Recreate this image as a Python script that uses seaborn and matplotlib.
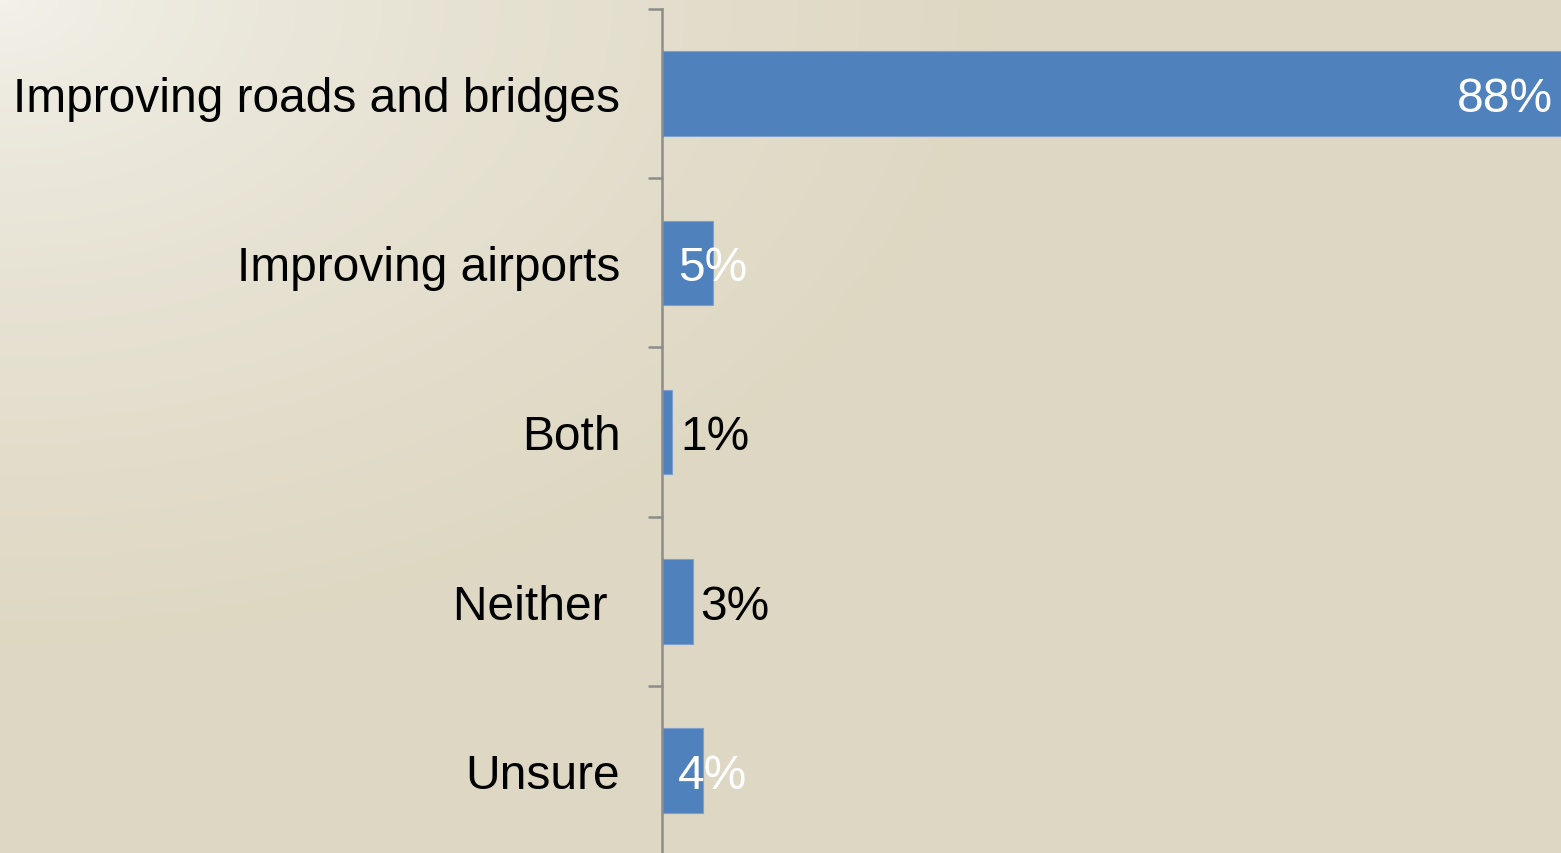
import matplotlib
matplotlib.use('Agg')
import matplotlib.pyplot as plt
import numpy as np
import pandas as pd
import seaborn as sns
from matplotlib.colors import LinearSegmentedColormap

categories = ['Improving roads and bridges', 'Improving airports', 'Both', 'Neither ', 'Unsure']
values = [88, 5, 1, 3, 4]
value_labels = ['88%', '5%', '1%', '3%', '4%']
# label placement as drawn in the original: inside end, inside base, or outside end
label_modes = ['inside_end', 'inside_base', 'outside', 'outside', 'inside_base']
label_colors = ['white', 'white', 'black', 'black', 'white']

BAR_COLOR = '#4F81BD'
BG_LIGHT = '#F4F2EC'
BG_DARK = '#DED8C3'
FS = 34.5

sns.set_theme(style='white')
plt.rcParams['font.family'] = ['Liberation Sans', 'DejaVu Sans']

df = pd.DataFrame({'category': categories, 'value': values})

fig = plt.figure(figsize=(15.61, 8.54), dpi=100)

# gradient background
bg = fig.add_axes([0, 0, 1, 1], zorder=0)
h, w = 854, 1561
yy, xx = np.mgrid[0:h, 0:w]
d = np.sqrt((xx / 1000.0) ** 2 + (yy / 650.0) ** 2)
t = np.clip(d, 0, 1) ** 0.65
cmap = LinearSegmentedColormap.from_list('bg', [BG_LIGHT, BG_DARK])
bg.imshow(t, cmap=cmap, vmin=0, vmax=1, aspect='auto', extent=[0, 1, 0, 1], origin='upper')
bg.axis('off')

ax = fig.add_axes([662 / 1561, -2 / 854, 1 - 662 / 1561, 846 / 854], zorder=1)
ax.patch.set_alpha(0)
sns.barplot(data=df, y='category', x='value', orient='h', color=BAR_COLOR,
            saturation=1, width=0.5, edgecolor='#7FA0CF', linewidth=0.8, ax=ax)

ax.set_xlim(0, 88)
ax.set_ylim(len(categories) - 0.5, -0.5)
ax.set_xlabel('')
ax.set_ylabel('')
ax.set_xticks([])
for s in ['top', 'right', 'bottom']:
    ax.spines[s].set_visible(False)
ax.spines['left'].set_color('#8C8C8C')
ax.spines['left'].set_linewidth(1.8)

# category labels
ax.set_yticks(range(len(categories)))
ax.set_yticklabels(categories, fontsize=FS, color='black')
ax.tick_params(axis='y', length=0, pad=30)
for lab in ax.get_yticklabels():
    lab.set_verticalalignment('center_baseline')
# boundary tick marks
for b in np.arange(-0.5, len(categories) - 0.5, 1.0):
    ax.plot([-0.0145, 0], [b, b], transform=ax.get_yaxis_transform(),
            color='#8C8C8C', lw=1.8, clip_on=False)

for i, (v, lab, mode, col) in enumerate(zip(values, value_labels, label_modes, label_colors)):
    if mode == 'inside_end':
        x, ha = v - 0.8, 'right'
    elif mode == 'inside_base':
        x, ha = 1.55, 'left'
    else:
        x, ha = v + 0.75, 'left'
    ax.text(x, i, lab, ha=ha, va='center_baseline', fontsize=FS, color=col)

fig.savefig('out.png', dpi=100)
